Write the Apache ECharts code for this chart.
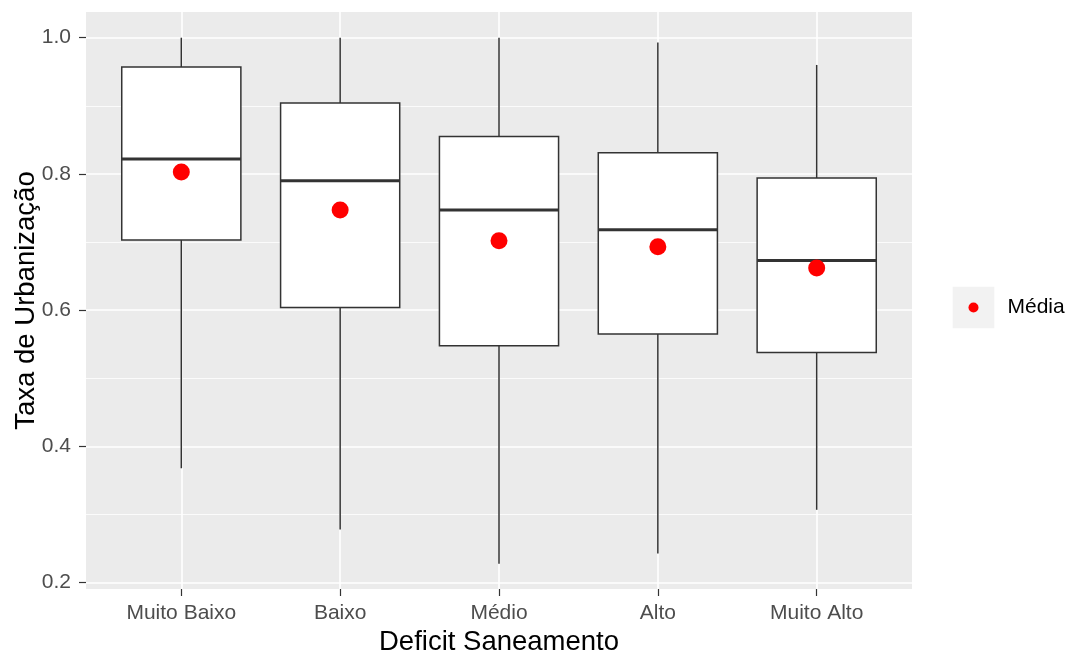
<!DOCTYPE html>
<html><head><meta charset="utf-8">
<script src="https://cdn.jsdelivr.net/npm/echarts@6/dist/echarts.min.js"></script>
<style>html,body{margin:0;padding:0;background:#fff}#c{width:1067px;height:654px}</style>
</head><body><div id="c"></div>
<script>
// ---- data ----
const categories = ['Muito Baixo', 'Baixo', 'Médio', 'Alto', 'Muito Alto'];
const whiskerLow  = [0.368, 0.278, 0.228, 0.243, 0.307];
const q1          = [0.703, 0.604, 0.548, 0.565, 0.538];
const medians     = [0.822, 0.790, 0.747, 0.718, 0.673];
const q3          = [0.957, 0.904, 0.855, 0.831, 0.794];
const whiskerHigh = [1.000, 1.000, 1.000, 0.993, 0.960];
const means       = [0.803, 0.747, 0.702, 0.693, 0.662];
const yMin = 0.2, yMax = 1.0, yStep = 0.2;
const xTitle = 'Deficit Saneamento';
const yTitle = 'Taxa de Urbanização';
const legendName = 'Média';

// ---- layout ----
const PL = 86, PR = 912, PT = 12, PB = 589;      // panel
const YT = 37.7, YB = 582.7;                      // pixel rows of yMax / yMin
const band = (PR - PL) / (categories.length + 0.2);

const chart = echarts.init(document.getElementById('c'), null, {renderer: 'canvas'});
const font = 'Liberation Sans, Arial, sans-serif';

const boxData = categories.map((c, i) => [i, whiskerLow[i], q1[i], medians[i], q3[i], whiskerHigh[i]]);
const g = o => Object.assign({outerBoundsMode: 'none', containLabel: false}, o);

chart.setOption({
  animation: false,
  backgroundColor: '#ffffff',
  textStyle: {fontFamily: font},
  grid: [
    g({left: PL, top: PT, width: PR - PL, height: PB - PT, show: true, backgroundColor: '#EBEBEB', borderWidth: 0}),
    g({left: PL, top: YT, width: PR - PL, height: YB - YT}),
    g({left: PL + 0.6 * band, top: PT, width: band * (categories.length - 1), height: PB - PT}),
    g({left: PL + 0.1 * band, top: YT, width: band * categories.length, height: YB - YT})
  ],
  xAxis: [
    {gridIndex: 0, type: 'value', show: false, min: 0, max: 1},
    {gridIndex: 1, type: 'value', show: false, min: 0, max: 1},
    {gridIndex: 2, type: 'value', min: 0, max: categories.length - 1, interval: 1,
     axisLine: {show: false, onZero: false},
     axisTick: {show: true, length: 7, lineStyle: {color: '#333333', width: 1.2}},
     axisLabel: {formatter: v => categories[v] || '', color: '#4D4D4D', fontSize: 21, margin: 14, fontFamily: font},
     splitLine: {show: true, lineStyle: {color: '#ffffff', width: 1.6}},
     name: xTitle, nameLocation: 'middle', nameGap: 39,
     nameTextStyle: {fontSize: 27.5, color: '#000000', fontFamily: font}},
    {gridIndex: 3, type: 'category', data: categories, show: false}
  ],
  yAxis: [
    {gridIndex: 0, type: 'value', show: true, min: 0, max: 1,
     axisLine: {show: false}, axisTick: {show: false}, axisLabel: {show: false}, splitLine: {show: false},
     name: yTitle, nameLocation: 'middle', nameGap: 46,
     nameTextStyle: {fontSize: 27.5, color: '#000000', fontFamily: font}},
    {gridIndex: 1, type: 'value', min: yMin, max: yMax, interval: yStep,
     axisLine: {show: false},
     axisTick: {show: true, length: 7, lineStyle: {color: '#333333', width: 1.2}},
     axisLabel: {formatter: v => v.toFixed(1), color: '#4D4D4D', fontSize: 21, margin: 15, fontFamily: font},
     splitLine: {show: true, lineStyle: {color: '#ffffff', width: 1.6}},
     minorTick: {show: false, splitNumber: 2},
     minorSplitLine: {show: true, lineStyle: {color: '#ffffff', width: 0.8}}},
    {gridIndex: 2, type: 'value', show: false, min: 0, max: 1},
    {gridIndex: 3, type: 'value', show: false, min: yMin, max: yMax}
  ],
  legend: {
    data: [{name: legendName, icon: 'circle'}],
    left: 968.5, top: 295.5, padding: 0,
    itemWidth: 10, itemHeight: 10,
    textStyle: {fontSize: 21, color: '#000000', lineHeight: 24, padding: [0, 0, 0, 24], fontFamily: font}
  },
  graphic: [
    {type: 'rect', shape: {x: 952.7, y: 286.7, width: 41.6, height: 41.6}, style: {fill: '#F2F2F2'}, z: 0}
  ],
  series: [
    {
      type: 'custom', name: 'box', xAxisIndex: 3, yAxisIndex: 3,
      encode: {x: 0, y: [1, 2, 3, 4, 5]},
      data: boxData, z: 3,
      renderItem: function (params, api) {
        const i = api.value(0);
        const x = api.coord([i, api.value(3)])[0];
        const w = api.size([1, 0])[0] * 0.75;
        const yv = k => api.coord([i, api.value(k)])[1];
        const stroke = {stroke: '#333333', lineWidth: 1.5, fill: null};
        return {
          type: 'group',
          children: [
            {type: 'line', shape: {x1: x, y1: yv(5), x2: x, y2: yv(4)}, style: stroke},
            {type: 'line', shape: {x1: x, y1: yv(2), x2: x, y2: yv(1)}, style: stroke},
            {type: 'rect', shape: {x: x - w / 2, y: yv(4), width: w, height: yv(2) - yv(4)},
             style: {fill: '#ffffff', stroke: '#333333', lineWidth: 1.5}},
            {type: 'line', shape: {x1: x - w / 2, y1: yv(3), x2: x + w / 2, y2: yv(3)},
             style: {stroke: '#333333', lineWidth: 3}}
          ]
        };
      }
    },
    {
      type: 'scatter', name: legendName, xAxisIndex: 3, yAxisIndex: 3,
      data: means, symbol: 'circle', symbolSize: 17, z: 5,
      itemStyle: {color: '#FF0000', opacity: 1}
    }
  ]
});
</script>
</body></html>
